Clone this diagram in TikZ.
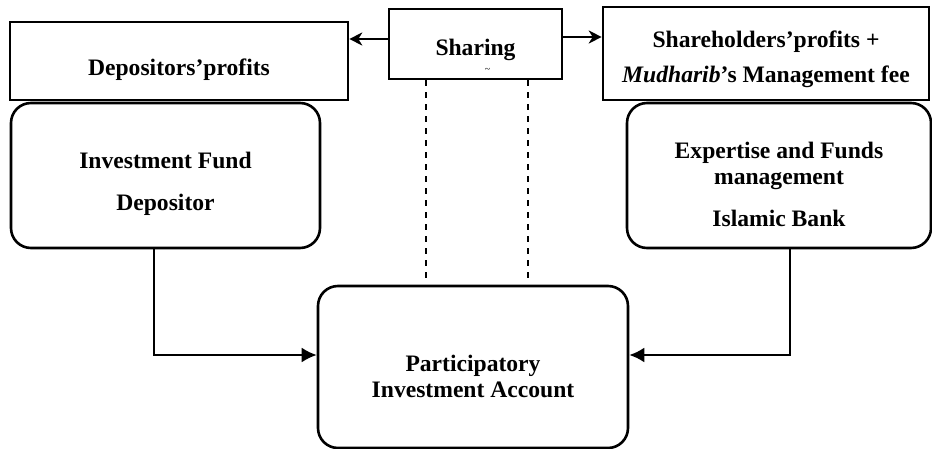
\documentclass[tikz,border=0pt]{standalone}
\usepackage{fontspec}
\setmainfont{Liberation Serif}
\usetikzlibrary{arrows.meta}

\begin{document}
\begin{tikzpicture}[x=0.5pt, y=-0.5pt, >={Latex[length=7.5pt, width=7.5pt]},
  box/.style={draw, line width=1.3pt, inner sep=0pt},
  rbox/.style={box, rounded corners=10pt},
  txt/.style={align=center, font=\fontsize{11.8}{13}\selectfont\bfseries, yshift=-4.5pt},
  link/.style={line width=1.1pt},
  share/.style={link, -{Stealth[length=6.5pt, width=6.5pt, inset=2pt]}}]
\useasboundingbox (0,0) rectangle (932,449);
% top row
\node[box, minimum width=169pt, minimum height=39pt, label={[txt]center:Depositors’profits}] (dep) at (179,61) {};
\node[box, minimum width=86.5pt, minimum height=35pt, label={[txt, yshift=1.5pt]center:Sharing}, label={[font=\tiny, xshift=6pt, yshift=-13pt]center:\textasciitilde}] (shr) at (475.5,44) {};
\node[box, minimum width=163pt, minimum height=46.5pt, label={[txt, yshift=1.5pt]center:Shareholders’profits +\\[4.5pt]\textit{Mudharib}’s Management fee}] (sh) at (766,53.5) {};
% parties
\node[rbox, minimum width=154.5pt, minimum height=72.5pt, label={[txt, yshift=0.25pt]center:Investment Fund\\[8pt]Depositor}] (inv) at (165.5,175.5) {};
\node[rbox, minimum width=152pt, minimum height=72.5pt, label={[txt, yshift=0.25pt]center:Expertise and Funds\\[0pt]management\\[8pt]Islamic Bank}] (exp) at (779,175.5) {};
\node[rbox, minimum width=155pt, minimum height=81pt, label={[txt]center:Participatory\\[0pt]Investment Account}] (pia) at (473,367) {};
% sharing
\draw[share] (shr.west |- 0,39) -- (dep.east |- 0,39);
\draw[share] (shr.east |- 0,37) -- (sh.west |- 0,37);
\coordinate (d1) at (426,278);
\coordinate (d2) at (528,278);
\draw[dashed, line width=0.7pt] (shr.south -| d1) -- (d1);
\draw[dashed, line width=0.7pt] (shr.south -| d2) -- (d2);
% contributions
\draw[link, ->] (inv.south -| 154,0) |- (pia.west |- 0,355);
\draw[link, ->] (exp.south -| 790,0) |- (pia.east |- 0,355);
\end{tikzpicture}
\end{document}
